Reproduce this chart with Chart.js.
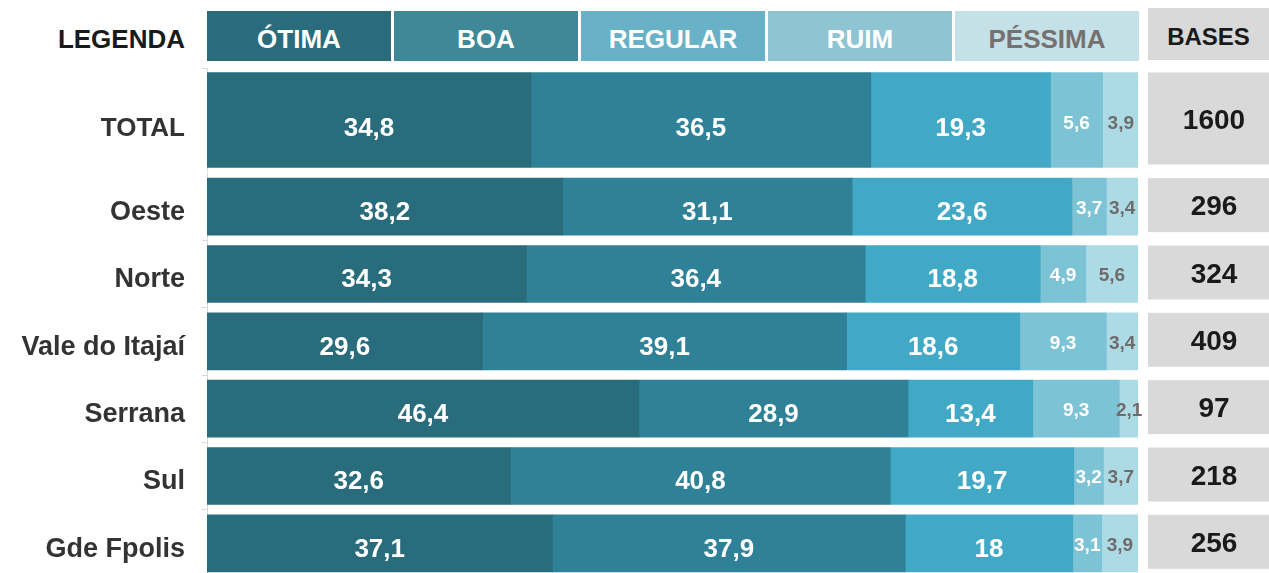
<!DOCTYPE html>
<html>
<head>
<meta charset="utf-8">
<script src="https://cdn.jsdelivr.net/npm/chart.js@4.4.1/dist/chart.umd.min.js"></script>
<style>
  html, body { margin: 0; padding: 0; background: #fff; width: 1269px; height: 573px; overflow: hidden; }
  body { position: relative; font-family: "Liberation Sans", Arial, sans-serif; font-weight: bold; }
  .lg-title { position: absolute; left: 0; top: 11px; width: 185px; height: 50px; line-height: 56px; text-align: right; font-size: 26px; color: #1a1a1a; }
  .lg-box { position: absolute; top: 11px; width: 184px; height: 50px; line-height: 56px; text-align: center; font-size: 26px; }
  .lg-bases { position: absolute; left: 1148px; top: 8px; width: 121px; height: 52px; line-height: 58px; background: #d9d9d9; text-align: center; font-size: 24px; color: #1a1a1a; }
  #wrapTotal { position: absolute; left: 0; top: 68px; }
  #wrapRegions { position: absolute; left: 0; top: 173px; }
</style>
</head>
<body>
<div id="legend"></div>
<div id="wrapTotal"><canvas id="totalChart" width="1269" height="104"></canvas></div>
<div id="wrapRegions"><canvas id="regionChart" width="1269" height="404"></canvas></div>
<script>
const categories = ["TOTAL", "Oeste", "Norte", "Vale do Itajaí", "Serrana", "Sul", "Gde Fpolis"];
const seriesNames = ["ÓTIMA", "BOA", "REGULAR", "RUIM", "PÉSSIMA"];
const otima   = [34.8, 38.2, 34.3, 29.6, 46.4, 32.6, 37.1];
const boa     = [36.5, 31.1, 36.4, 39.1, 28.9, 40.8, 37.9];
const regular = [19.3, 23.6, 18.8, 18.6, 13.4, 19.7, 18.0];
const ruim    = [5.6, 3.7, 4.9, 9.3, 9.3, 3.2, 3.1];
const pessima = [3.9, 3.4, 5.6, 3.4, 2.1, 3.7, 3.9];
const bases   = [1600, 296, 324, 409, 97, 218, 256];

const series = [otima, boa, regular, ruim, pessima];
const barColors = ["#296c7c", "#2e8196", "#41a9c5", "#7dc3d6", "#acdbe6"];
const legendColors = ["#2a6b7c", "#3f8898", "#68b1c7", "#8fc5d3", "#c3e1e7"];
const labelColors = ["#ffffff", "#ffffff", "#ffffff", "#ffffff", "#6f6b6b"];

// legend row (html)
const legend = document.getElementById("legend");
const title = document.createElement("div");
title.className = "lg-title";
title.textContent = "LEGENDA";
legend.appendChild(title);
seriesNames.forEach(function (name, i) {
  const box = document.createElement("div");
  box.className = "lg-box";
  box.style.left = (207 + i * 187) + "px";
  box.style.background = legendColors[i];
  box.style.color = i === 4 ? "#767171" : "#ffffff";
  box.textContent = name;
  legend.appendChild(box);
});
const basesHead = document.createElement("div");
basesHead.className = "lg-bases";
basesHead.textContent = "BASES";
legend.appendChild(basesHead);

function fmt(v) {
  return String(v).replace(".", ",");
}

const segLabels = {
  id: "segLabels",
  afterDatasetsDraw(chart, args, opts) {
    const ctx = chart.ctx;
    ctx.save();
    ctx.textAlign = "center";
    ctx.textBaseline = "middle";
    chart.data.datasets.forEach(function (ds, di) {
      const meta = chart.getDatasetMeta(di);
      meta.data.forEach(function (bar, i) {
        const v = ds.data[i];
        const cx = (bar.x + bar.base) / 2;
        const big = di < 3;
        ctx.font = big ? "bold 26px 'Liberation Sans', Arial, sans-serif" : "bold 19px 'Liberation Sans', Arial, sans-serif";
        ctx.fillStyle = labelColors[di];
        ctx.fillText(fmt(v), cx, bar.y + (big ? opts.shift : opts.shift / 2 - 1));
      });
    });
    // bases column
    const yScale = chart.scales.y;
    const right = chart.chartArea.right;
    const first = chart.getDatasetMeta(0).data;
    chart.data.labels.forEach(function (lab, i) {
      const y = yScale.getPixelForValue(i);
      const h = first[i].height;
      ctx.fillStyle = "#d9d9d9";
      ctx.fillRect(right + 10, y - h / 2, chart.width - right - 10, h - 3);
      ctx.fillStyle = "#1a1a1a";
      ctx.font = "bold 28px 'Liberation Sans', Arial, sans-serif";
      ctx.fillText(String(opts.bases[i]), right + 76, y + 1);
    });
    ctx.restore();
  }
};

function makeChart(canvasId, from, to, thickness, labelSize, shift) {
  return new Chart(document.getElementById(canvasId), {
    type: "bar",
    data: {
      labels: categories.slice(from, to),
      datasets: series.map(function (vals, i) {
        return {
          label: seriesNames[i],
          data: vals.slice(from, to),
          backgroundColor: barColors[i],
          borderWidth: 0,
          barThickness: thickness
        };
      })
    },
    options: {
      indexAxis: "y",
      responsive: false,
      animation: false,
      layout: { padding: { left: 0, right: 131, top: 0, bottom: 0 } },
      plugins: {
        legend: { display: false },
        tooltip: { enabled: false },
        segLabels: { bases: bases.slice(from, to), shift: shift }
      },
      scales: {
        x: { stacked: true, min: 0, max: 100, display: false },
        y: {
          stacked: true,
          afterFit: function (s) {
            s.width = 207;
            s.paddingTop = 0;
            s.paddingBottom = 0;
          },
          grid: { drawOnChartArea: false, tickLength: 5, color: "#d9d9d9" },
          border: { color: "#d9d9d9" },
          ticks: {
            padding: 17,
            labelOffset: shift,
            color: "#333333",
            font: { family: "'Liberation Sans', Arial, sans-serif", weight: "bold", size: labelSize }
          }
        }
      }
    },
    plugins: [segLabels]
  });
}

makeChart("totalChart", 0, 1, 95, 26, 9);
makeChart("regionChart", 1, 7, 57, 27, 6);
</script>
</body>
</html>
